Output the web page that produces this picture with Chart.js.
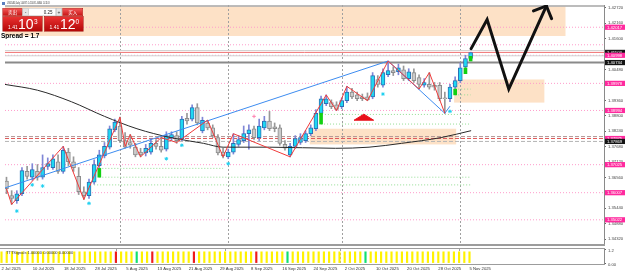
<!DOCTYPE html>
<html><head><meta charset="utf-8">
<script src="https://cdn.jsdelivr.net/npm/chart.js@4.4.1/dist/chart.umd.min.js"></script>
<style>
html,body{margin:0;padding:0;background:#fff;overflow:hidden;}
#wrap{position:relative;width:625px;height:274px;background:#fff;}
#cA{position:absolute;left:0;top:0;}
#cB{position:absolute;left:0;top:248px;}
.t{position:absolute;white-space:nowrap;transform-origin:0 0;font-family:'Liberation Sans',Arial,sans-serif;}
#panel{position:absolute;left:0;top:0;width:340px;height:160px;transform:scale(0.5);transform-origin:0 0;font-family:'Liberation Sans',Arial,sans-serif;}
#panel div{position:absolute;box-sizing:border-box;}
#panel span{position:absolute;white-space:nowrap;}
.btn{height:16px;background:linear-gradient(#f45a5a,#c81414);color:#fff;font:9px 'Noto Sans CJK SC',sans-serif;text-align:center;line-height:14px;border:1px solid #a00;}
.pm{width:12px;height:16px;background:#e6e6e6;border:1px solid #bbb;font:10px Arial;text-align:center;line-height:13px;color:#333}
.lot{width:55px;height:16px;background:#fff;border:1px solid #bbb;font:9px 'Liberation Sans';text-align:right;padding-right:6px;line-height:14px;color:#222}
.big{height:31px;background:linear-gradient(#ea3232,#b40808);color:#fff;border:1px solid #900;}
.big .s{top:15px;font-size:10px;}
.big .b{top:2px;font-size:28px;line-height:28px;}
.big .u{top:3px;font-size:13px;}
</style></head>
<body><div id="wrap">
<canvas id="cA" width="625" height="249"></canvas>
<canvas id="cB" width="625" height="26"></canvas>
<div style="position:absolute;left:2px;top:2px;width:3px;height:3px;background:#5a7fc0;"></div>
<div class="t" style="left:7px;top:1px;font-size:8px;color:#333;transform:scale(0.24,0.4);">USDCAD,Daily 1.40875 1.41108 1.40840 1.41103</div>
<div id="panel">
  <div class="btn" style="left:5px;top:16px;width:40px;">卖出</div>
  <div class="pm" style="left:45px;top:16px;">-</div>
  <div class="lot" style="left:57px;top:16px;">0.25</div>
  <div class="pm" style="left:112px;top:16px;">+</div>
  <div class="btn" style="left:125px;top:16px;width:41px;">买入</div>
  <div class="big" style="left:5px;top:32px;width:80px;"><span class="s" style="left:10px">1.41</span><span class="b" style="left:30px">10</span><span class="u" style="left:62px">3</span></div>
  <div class="big" style="left:88px;top:32px;width:79px;"><span class="s" style="left:10px">1.41</span><span class="b" style="left:31px">12</span><span class="u" style="left:62px">0</span></div>
  <div style="left:2px;top:63px;font:bold 13px 'Liberation Sans',Arial,sans-serif;color:#000;">Spread = 1.7</div>
</div>
<div class="t" style="left:6px;top:250px;font-size:8px;color:#333;transform:scale(0.5);">TTTSignals 1.00000 0.00000 0.00000</div>
</div>
<script>
// ---------- data ----------
const opens  = [1.3643,1.3590,1.3572,1.3597,1.3678,1.3657,1.3678,1.3657,1.3696,1.3692,1.3713,1.3678,1.3748,1.3713,1.3660,1.3604,1.3590,1.3639,1.3699,1.3734,1.3766,1.3829,1.3843,1.3790,1.3783,1.3766,1.3748,1.3745,1.3748,1.3780,1.3769,1.3759,1.3801,1.3808,1.3797,1.3871,1.3868,1.3910,1.3825,1.3854,1.3836,1.3801,1.3748,1.3731,1.3748,1.3776,1.3790,1.3815,1.3833,1.3801,1.3836,1.3861,1.3840,1.3836,1.3776,1.3738,1.3769,1.3783,1.3790,1.3815,1.3833,1.3889,1.3924,1.3928,1.3920,1.3913,1.3935,1.3966,1.3956,1.3949,1.3949,1.3949,1.4012,1.3991,1.4029,1.4044,1.4040,1.4047,1.4015,1.4037,1.4019,1.3991,1.3994,1.3991,1.3991,1.3945,1.3942,1.3984,1.4008,1.4058,1.4088];
const highs  = [1.3657,1.3608,1.3608,1.3692,1.3696,1.3706,1.3703,1.3738,1.3727,1.3738,1.3738,1.3769,1.3762,1.3731,1.3692,1.3622,1.3650,1.3720,1.3755,1.3783,1.3843,1.3868,1.3875,1.3819,1.3812,1.3780,1.3762,1.3776,1.3797,1.3794,1.3801,1.3822,1.3822,1.3822,1.3878,1.3889,1.3920,1.3924,1.3875,1.3864,1.3847,1.3812,1.3762,1.3759,1.3815,1.3808,1.3843,1.3847,1.3843,1.3868,1.3878,1.3896,1.3854,1.3847,1.3790,1.3780,1.3808,1.3815,1.3826,1.3847,1.3903,1.3952,1.3956,1.3938,1.3931,1.3945,1.3987,1.3980,1.3966,1.3959,1.3963,1.4037,1.4026,1.4051,1.4079,1.4058,1.4068,1.4061,1.4051,1.4051,1.4029,1.4015,1.4037,1.4001,1.4001,1.3966,1.3994,1.4022,1.4072,1.4100,1.4111];
const lows   = [1.3597,1.3558,1.3562,1.3590,1.3650,1.3646,1.3646,1.3650,1.3685,1.3685,1.3671,1.3671,1.3699,1.3678,1.3594,1.3576,1.3580,1.3632,1.3692,1.3727,1.3759,1.3822,1.3783,1.3762,1.3762,1.3731,1.3731,1.3734,1.3741,1.3759,1.3748,1.3752,1.3790,1.3780,1.3790,1.3850,1.3861,1.3847,1.3818,1.3829,1.3801,1.3738,1.3727,1.3724,1.3741,1.3769,1.3783,1.3759,1.3794,1.3790,1.3829,1.3826,1.3822,1.3773,1.3755,1.3731,1.3762,1.3776,1.3783,1.3808,1.3826,1.3882,1.3917,1.3906,1.3899,1.3906,1.3928,1.3942,1.3935,1.3935,1.3935,1.3942,1.3984,1.3984,1.4022,1.4026,1.4029,1.4008,1.4008,1.4001,1.3977,1.3984,1.3977,1.3973,1.3935,1.3889,1.3931,1.3977,1.4001,1.4051,1.4084];
const closes = [1.3615,1.3580,1.3597,1.3681,1.3660,1.3685,1.3657,1.3692,1.3706,1.3724,1.3678,1.3755,1.3713,1.3692,1.3604,1.3590,1.3639,1.3703,1.3738,1.3769,1.3833,1.3857,1.3790,1.3766,1.3773,1.3738,1.3738,1.3762,1.3780,1.3769,1.3755,1.3808,1.3812,1.3790,1.3868,1.3861,1.3910,1.3854,1.3864,1.3836,1.3808,1.3745,1.3734,1.3748,1.3780,1.3794,1.3815,1.3829,1.3801,1.3843,1.3861,1.3833,1.3833,1.3780,1.3762,1.3769,1.3797,1.3801,1.3815,1.3836,1.3889,1.3942,1.3942,1.3913,1.3903,1.3935,1.3966,1.3949,1.3942,1.3942,1.3938,1.4026,1.3994,1.4037,1.4044,1.4037,1.4054,1.4015,1.4040,1.4008,1.3994,1.4001,1.3984,1.3984,1.3942,1.3942,1.3984,1.4008,1.4054,1.4088,1.4110];
// indicator state per bar: 1 buy, -1 sell, 0 neutral
const signalState = [0,0,0,0,0,0,0,0,0,0,0,0,0,0,0,0,0,0,0,0,0,0,-1,0,0,0,1,0,0,-1,0,0,0,0,0,0,0,-1,0,0,0,0,0,0,0,0,0,0,0,-1,0,0,0,0,0,1,0,0,0,0,0,0,0,0,0,0,0,0,0,0,1,0,0,0,0,0,0,0,0,0,0,0,0,0,0,0,0,0,0,0,0];
const tickBars   = [0,6,12,18,24,30,36,42,48,54,60,66,72,78,84,90];
const tickLabels = ['2 Jul 2025','10 Jul 2025','18 Jul 2025','28 Jul 2025','5 Aug 2025','13 Aug 2025','21 Aug 2025','29 Aug 2025','8 Sep 2025','16 Sep 2025','24 Sep 2025','2 Oct 2025','10 Oct 2025','20 Oct 2025','28 Oct 2025','5 Nov 2025'];
const priceTicks = [1.42720,1.42160,1.41600,1.41040,1.40480,1.39920,1.39360,1.38800,1.38240,1.37680,1.37120,1.36560,1.36000,1.35440,1.34880,1.34320];
const monthStartBars = [22,43,65,88];
// moving average
const maBars   = [-0.3,6,12.6,19,25.3,31.8,38.2,42,51,63.8,70.3,76.6,84.3,90.1];
const maValues = [1.3994,1.3973,1.3931,1.3878,1.3833,1.3801,1.3780,1.3766,1.3766,1.3762,1.3766,1.3780,1.3801,1.3826];
// zigzag
const zzBars   = [0,1,11,15,22,23,24,26,30,33,39,42,44,55,62,64,66,70,74,80,82,85];
const zzValues = [1.3615,1.3558,1.3769,1.3576,1.3875,1.3769,1.3812,1.3731,1.3801,1.3783,1.3864,1.3731,1.3815,1.3731,1.3956,1.3899,1.3987,1.3935,1.4079,1.3977,1.4037,1.3889];
// trend lines
const trend1Bars = [-0.3,74],   trend1Values = [1.3618,1.4079];
const trend2Bars = [74,85,86],  trend2Values = [1.4079,1.3889,1.3915];
// hand-drawn arrow
const arrowBars = [90.1,93.2,97.4,104.7], arrowValues = [1.4124,1.4230,1.3977,1.4279];
const headBars  = [102.2,104.7,105.7],    headValues  = [1.4261,1.4279,1.4233];
// markers
const dotBars   = [2,5,7,16,31,34,43,73,86];
const dotValues = [1.3534,1.3629,1.3625,1.3562,1.3724,1.3773,1.3706,1.3959,1.3896];
const plusBars = [48], plusValues = [1.3878];
const triBars = [67.4,69.3,71.2,67.4], triValues = [1.3864,1.3886,1.3864,1.3864];
const greenBars = [18,61,87,89,90];
const greenLow  = [1.3657,1.3850,1.3956,1.4033,1.4079];
const greenHigh = [1.3689,1.3889,1.3977,1.4054,1.4096];
// zones
const zoneFrom = [-0.3,86.8,58.8], zoneTo = [108.4,104.3,87.2];
const zoneHigh = [1.4277,1.4012,1.3833], zoneLow = [1.4170,1.3928,1.3776];
// horizontal levels
const levelPrices = [1.4279,1.42017,1.4138,1.4117,1.41103,1.40998,1.4098,1.40734,1.39978,1.38994,1.38045,1.37975,1.37869,1.37025,1.36007,1.35022];
const levelKinds  = ['top','pink','pink','light','red','pink','light','thick','pink','pink','dashBrown','dashRed','dashGray','pink','pink','pink'];
const partPrices = [1.3689,1.3657,1.3629,1.3885,1.3850,1.3977,1.3956];
const partFrom   = [18,18,17,60,61,87,87];
const partTo     = [42,90,90,90,90,90,90];
// right-axis price tags
const tagPrices = [1.42017,1.41103,1.40998,1.40734,1.39978,1.38994,1.37975,1.37869,1.37025,1.36007,1.35022];
const tagKinds  = ['pink','black','pink','black','pink','pink','pink','black','pink','pink','pink'];

// ---------- styles ----------
const FONT = "'Liberation Sans', Arial, sans-serif";
const levelStyle = {
  top:{c:'#a6a6a6',w:1.5,d:[]}, pink:{c:'#ff9ccb',w:1,d:[1,2]}, light:{c:'#d2d2d2',w:1,d:[]},
  red:{c:'#f07070',w:1,d:[]}, thick:{c:'#8a8a8a',w:2,d:[]},
  dashBrown:{c:'#b09494',w:1,d:[4,2]}, dashRed:{c:'#e05a5a',w:1,d:[4,2]}, dashGray:{c:'#b4b4b4',w:1,d:[4,2]}
};
const idx = opens.map((_, i) => i);
const bull = idx.map(i => closes[i] >= opens[i]);
const pts = (xs, ys) => xs.map((x, k) => ({x, y: ys[k]}));
const xMin = -1.5/5.2, xMax = xMin + 604/5.2;

const bgPlugin = {
  id: 'bgA',
  beforeDatasetsDraw(chart) {
    const {ctx, chartArea: a, scales: {x, y}} = chart;
    ctx.save();
    ctx.beginPath(); ctx.rect(a.left, a.top, a.right - a.left, a.bottom - a.top); ctx.clip();
    ctx.fillStyle = '#fde1c6';
    zoneFrom.forEach((f, k) => {
      const x0 = x.getPixelForValue(f), x1 = x.getPixelForValue(zoneTo[k]);
      const y0 = y.getPixelForValue(zoneHigh[k]), y1 = y.getPixelForValue(zoneLow[k]);
      ctx.fillRect(x0, y0, x1 - x0, y1 - y0);
    });
    ctx.strokeStyle = '#a0a0a0'; ctx.lineWidth = 1; ctx.setLineDash([2,2]);
    monthStartBars.forEach(b => {
      const px = Math.round(x.getPixelForValue(b)) + 0.5;
      ctx.beginPath(); ctx.moveTo(px, a.top); ctx.lineTo(px, a.bottom); ctx.stroke();
    });
    levelPrices.forEach((p, k) => {
      const s = levelStyle[levelKinds[k]];
      const py = y.getPixelForValue(p);
      ctx.strokeStyle = s.c; ctx.lineWidth = s.w; ctx.setLineDash(s.d);
      ctx.beginPath(); ctx.moveTo(a.left, py); ctx.lineTo(a.right, py); ctx.stroke();
    });
    ctx.strokeStyle = '#93dd93'; ctx.lineWidth = 1; ctx.setLineDash([1,2]);
    partPrices.forEach((p, k) => {
      const py = y.getPixelForValue(p);
      ctx.beginPath(); ctx.moveTo(x.getPixelForValue(partFrom[k]), py); ctx.lineTo(x.getPixelForValue(partTo[k]), py); ctx.stroke();
    });
    ctx.restore();
  },
  afterDraw(chart) {
    const {ctx, chartArea: a, scales: {y}} = chart;
    ctx.save();
    ctx.fillStyle = '#9c9c9c';
    ctx.fillRect(0, a.bottom, a.right + 1, 2);
    ctx.font = "4.2px " + FONT; ctx.textBaseline = 'middle'; ctx.textAlign = 'left';
    tagPrices.forEach((p, k) => {
      const py = y.getPixelForValue(p);
      ctx.fillStyle = tagKinds[k] === 'pink' ? '#ff2a9e' : '#141414';
      ctx.fillRect(y.left + 1, py - 2.6, 20, 5.2);
      ctx.fillStyle = '#ffffff';
      ctx.fillText(p.toFixed(5), y.left + 3, py + 0.2);
    });
    ctx.restore();
  }
};

const line = (data, color, width, order, extra) => Object.assign({type:'line', data, borderColor:color, borderWidth:width, pointRadius:0, order}, extra || {});

new Chart(document.getElementById('cA'), {
  type: 'bar',
  data: { datasets: [
    {type:'bar', data: idx.map(i => ({x:i, y:[lows[i], highs[i]]})), backgroundColor: idx.map(i => bull[i] ? '#7f86d6' : '#989898'), barThickness:1, grouped:false, order:12},
    {type:'bar', data: idx.map(i => ({x:i, y:[opens[i], closes[i]]})), backgroundColor: idx.map(i => bull[i] ? '#1fd8f2' : '#cbcbcb'), borderColor: idx.map(i => bull[i] ? '#2c6fb5' : '#8c8c8c'), borderWidth:1, borderSkipped:false, barThickness:4, grouped:false, order:11},
    {type:'bar', data: greenBars.map((b, k) => ({x:b, y:[greenLow[k], greenHigh[k]]})), backgroundColor:'#12d012', barThickness:3, grouped:false, order:10},
    line(pts(maBars, maValues), '#2a2a2a', 1, 9, {cubicInterpolationMode:'monotone'}),
    line(pts(trend1Bars, trend1Values), '#3d8cf0', 1, 5),
    line(pts(trend2Bars, trend2Values), '#3d8cf0', 1, 5),
    line(pts(zzBars, zzValues), '#f03a3a', 1, 4),
    line(pts(triBars, triValues), '#e8101a', 1, 3, {fill:'shape', backgroundColor:'#e8101a'}),
    line(pts(dotBars, dotValues), '#1fd0f0', 0, 3, {showLine:false, pointRadius:1.8, pointStyle:'star', pointBorderColor:'#1fd0f0', pointBorderWidth:1}),
    line(pts(plusBars, plusValues), '#ff80b0', 0, 3, {showLine:false, pointRadius:1.8, pointStyle:'cross', pointBorderColor:'#ff80b0', pointBorderWidth:1}),
    line(pts(arrowBars, arrowValues), '#111111', 3, 1, {borderCapStyle:'round', borderJoinStyle:'miter'}),
    line(pts(headBars, headValues), '#111111', 3, 1, {borderCapStyle:'round', borderJoinStyle:'miter'})
  ]},
  options: {
    responsive:false, maintainAspectRatio:false, animation:false, events:[], devicePixelRatio:1,
    layout:{padding:{top:0, bottom:2, left:0, right:0}},
    plugins:{legend:{display:false}, tooltip:{enabled:false}},
    scales:{
      x:{type:'linear', min:xMin, max:xMax, display:false, offset:false},
      y:{type:'linear', position:'right', min:1.34143, max:1.42825,
         afterBuildTicks: s => { s.ticks = priceTicks.map(v => ({value:v})); },
         afterFit: s => { s.width = 21; s.paddingTop = 0; s.paddingBottom = 0; },
         ticks:{font:{family:FONT, size:4.2}, color:'#444', padding:2, callback: v => Number(v).toFixed(5)},
         grid:{display:true, drawOnChartArea:false, drawTicks:true, tickLength:2, tickColor:'#666'},
         border:{display:true, color:'#8a8a8a', width:1}}
    }
  },
  plugins:[bgPlugin]
});

const subPlugin = {
  id:'subB',
  beforeDatasetsDraw(chart) {
    const {ctx, chartArea: a, scales: {x}} = chart;
    ctx.save();
    ctx.strokeStyle = '#a0a0a0'; ctx.lineWidth = 1; ctx.setLineDash([2,2]);
    monthStartBars.forEach(b => {
      const px = Math.round(x.getPixelForValue(b)) + 0.5;
      ctx.beginPath(); ctx.moveTo(px, a.top); ctx.lineTo(px, a.bottom); ctx.stroke();
    });
    ctx.restore();
  },
  afterDraw(chart) {
    const {ctx, chartArea: a} = chart;
    ctx.save();
    ctx.fillStyle = '#9c9c9c';
    ctx.fillRect(0, 0, a.right + 1, 1);
    ctx.fillRect(0, a.bottom, a.right + 1, 1);
    ctx.restore();
  }
};

new Chart(document.getElementById('cB'), {
  type:'bar',
  data:{ datasets:[
    {type:'bar', data: idx.map(i => ({x:i, y:[0, 1]})), backgroundColor: idx.map(i => signalState[i] > 0 ? '#10e070' : signalState[i] < 0 ? '#ee1c1c' : '#fff200'), barThickness:1.5, grouped:false}
  ]},
  options:{
    responsive:false, maintainAspectRatio:false, animation:false, events:[], devicePixelRatio:1,
    layout:{padding:{top:1, bottom:0, left:0, right:0}},
    plugins:{legend:{display:false}, tooltip:{enabled:false}},
    scales:{
      x:{type:'linear', position:'bottom', min:xMin, max:xMax, offset:false,
         afterBuildTicks: s => { s.ticks = tickBars.map(v => ({value:v})); },
         afterFit: s => { s.height = 10; s.paddingLeft = 0; s.paddingRight = 0; },
         ticks:{align:'start', maxRotation:0, minRotation:0, autoSkip:false, padding:2, color:'#333', font:{family:FONT, size:4.2}, callback:(v, i) => tickLabels[i]},
         grid:{display:false, drawTicks:false}, border:{display:false}},
      y:{type:'linear', position:'right', min:-0.08, max:1.25,
         afterBuildTicks: s => { s.ticks = [{value:1.2},{value:0}]; },
         afterFit: s => { s.width = 21; s.paddingTop = 0; s.paddingBottom = 0; },
         ticks:{font:{family:FONT, size:4.2}, color:'#444', padding:2, labelOffset:1.5, callback: v => v === 0 ? '0.00' : '1.2'},
         grid:{display:true, drawOnChartArea:false, drawTicks:true, tickLength:2, tickColor:'#666'},
         border:{display:true, color:'#8a8a8a', width:1}}
    }
  },
  plugins:[subPlugin]
});
</script>
</body></html>
